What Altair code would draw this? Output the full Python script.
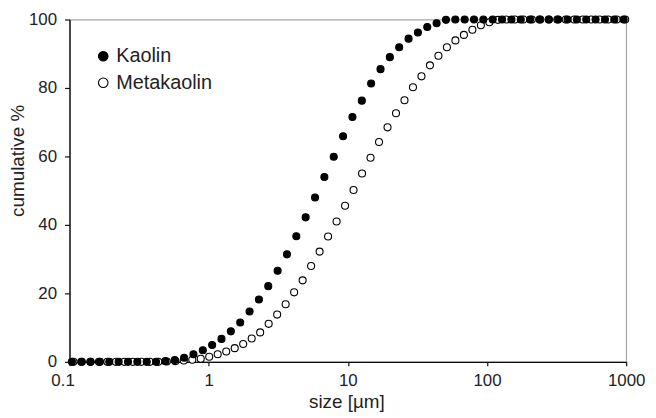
import altair as alt
import pandas as pd

# ---- data ----
series_names = ["Kaolin", "Metakaolin"]

kaolin_size = [0.1040, 0.1214, 0.1417, 0.1654, 0.1931, 0.2254, 0.2631, 0.3072, 0.3586, 0.4186,
               0.4887, 0.5705, 0.6660, 0.7774, 0.9075, 1.059, 1.236, 1.443, 1.685, 1.967,
               2.296, 2.680, 3.129, 3.652, 4.264, 4.977, 5.810, 6.783, 7.918, 9.243,
               10.79, 12.60, 14.70, 17.17, 20.04, 23.39, 27.31, 31.88, 37.21, 43.44,
               50.70, 59.19, 69.09, 80.66, 94.15, 109.9, 128.3, 149.8, 174.8, 204.1,
               238.2, 278.1, 324.7, 379.0, 442.4, 516.4, 602.8, 703.8, 821.5, 959.0]
kaolin_cum = [0, 0, 0, 0, 0, 0, 0, 0, 0, 0,
              0.2, 0.5, 1.2, 2.2, 3.4, 4.9, 6.7, 8.9, 11.5, 14.7,
              18.2, 22.1, 26.6, 31.4, 36.7, 42.2, 48.0, 54.0, 59.9, 65.9,
              71.5, 76.3, 81.3, 85.5, 89.0, 91.9, 94.4, 96.2, 97.8, 98.9,
              99.9, 100, 100, 100, 100, 100, 100, 100, 100, 100,
              100, 100, 100, 100, 100, 100, 100, 100, 100, 100]

meta_size = [0.1067, 0.1227, 0.1413, 0.1626, 0.1871, 0.2153, 0.2477, 0.2851, 0.3281, 0.3776,
             0.4345, 0.5000, 0.5754, 0.6622, 0.7621, 0.8770, 1.009, 1.161, 1.337, 1.538,
             1.770, 2.037, 2.344, 2.698, 3.105, 3.573, 4.111, 4.732, 5.445, 6.266,
             7.211, 8.299, 9.550, 10.99, 12.65, 14.55, 16.75, 19.28, 22.18, 25.53,
             29.38, 33.81, 38.90, 44.77, 51.52, 59.29, 68.23, 78.52, 90.36, 104.0,
             119.7, 137.7, 158.5, 182.4, 209.9, 241.5, 278.0, 319.9, 368.1, 423.6,
             487.5, 561.0, 645.7, 743.0, 855.1, 984.0]
meta_cum = [0, 0, 0, 0, 0, 0, 0, 0, 0, 0,
            0, 0.1, 0.2, 0.4, 0.6, 0.9, 1.5, 2.2, 3.0, 4.0,
            5.2, 6.8, 8.6, 11.1, 13.8, 16.8, 20.3, 23.8, 28.0, 32.2,
            36.6, 41.0, 45.6, 50.2, 55.0, 59.6, 64.2, 68.5, 72.6, 76.4,
            80.2, 83.4, 86.6, 89.4, 91.9, 93.9, 95.5, 97.0, 98.3, 99.2,
            99.9, 100, 100, 100, 100, 100, 100, 100, 100, 100,
            100, 100, 100, 100, 100, 100]

x_ticks = [0.1, 1, 10, 100, 1000]
y_ticks = [0, 20, 40, 60, 80, 100]

# Metakaolin first so that Kaolin is drawn on top
df = pd.concat([
    pd.DataFrame({"size": meta_size, "cum": meta_cum, "sample": series_names[1]}),
    pd.DataFrame({"size": kaolin_size, "cum": kaolin_cum, "sample": series_names[0]}),
], ignore_index=True)

FONT = "Liberation Sans"
TXT = "#222222"

chart = alt.Chart(df).mark_point(
    filled=True, shape="circle", size=50, stroke="black", strokeWidth=1.1, opacity=1
).encode(
    x=alt.X("size:Q",
            scale=alt.Scale(type="log", domain=[0.1, 1000], nice=False),
            axis=alt.Axis(values=x_ticks, format="~g", title="size [µm]",
                          grid=False, tickSize=4, labelPadding=7, labelFlush=False,
                          labelOffset={"condition": {"test": "datum.value < 0.5", "value": -7}, "value": 0},
                          titleX=279, titleY=31, titleBaseline="top", titleAlign="center")),
    y=alt.Y("cum:Q",
            scale=alt.Scale(domain=[0, 100], nice=False),
            axis=alt.Axis(values=y_ticks, format="d", title="cumulative %",
                          grid=False, tickSize=5, labelPadding=8,
                          titleX=-46, titleY=142, titleAngle=270,
                          titleAlign="center", titleBaseline="alphabetic")),
    fill=alt.Fill("sample:N",
                  scale=alt.Scale(domain=series_names, range=["black", "white"]),
                  legend=alt.Legend(title=None, orient="none", legendX=24, legendY=27,
                                    symbolType="circle", symbolSize=92,
                                    symbolStrokeColor="black", symbolStrokeWidth=1.1,
                                    labelFontSize=20, labelFont=FONT, labelColor=TXT,
                                    labelOffset=3, rowPadding=6.7, padding=0)),
).properties(
    width=561, height=345,
    padding={"left": 62, "top": 10, "right": 22, "bottom": 52},
    autosize=alt.AutoSizeParams(type="none"),
).configure_view(
    stroke="#a6a6a6", strokeWidth=1.2
).configure_axis(
    domainColor="#111111", domainWidth=1.4, tickColor="#111111", tickWidth=1.2,
    labelFont=FONT, labelFontSize=17, labelColor=TXT,
    titleFont=FONT, titleFontSize=19, titleColor=TXT, titleFontWeight="normal",
)

chart.save("out.html", embed_options={"renderer": "svg", "actions": False})
